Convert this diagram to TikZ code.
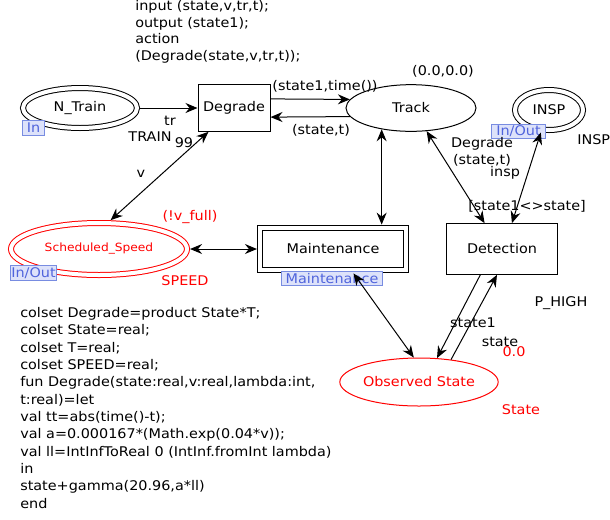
\documentclass[tikz,border=0pt]{standalone}
\usepackage{fontspec}
\setmainfont{DejaVu Sans}[FakeStretch=1.08]
\usetikzlibrary{positioning}
\usetikzlibrary{shapes.geometric}
\usetikzlibrary{arrows.meta}
\definecolor{tagfill}{RGB}{221,226,250}
\definecolor{tagline}{RGB}{120,140,225}
\definecolor{tagtext}{RGB}{80,100,220}

\begin{document}
\begin{tikzpicture}[x=0.75pt, y=-0.75pt,
    every node/.style={font=\fontsize{10}{12.5}\selectfont, inner sep=0pt},
    place/.style={draw, ellipse, line width=0.75pt},
    port/.style={place, double, double distance=3pt, outer sep=2.3pt},
    trans/.style={draw, rectangle, line width=0.75pt},
    tag/.style={draw=tagline, fill=tagfill, text=tagtext, minimum height=11pt, line width=0.6pt},
    arc/.style={line width=0.75pt, -{Stealth[length=9pt,width=7.5pt,inset=3pt]}},
    arcs/.style={line width=0.75pt, {Stealth[length=9pt,width=7.5pt,inset=3pt]}-{Stealth[length=9pt,width=7.5pt,inset=3pt]}}]
    \useasboundingbox (0,0) rectangle (610,519);

    % Lugares
    \node[port, minimum width=85.5pt, minimum height=30pt] (ntrain) at (80,108) {N\_Train};
    \node[place, minimum width=97.5pt, minimum height=35pt] (track) at (411,108) {Track};
    \node[port, minimum width=51pt, minimum height=30pt] (insp) at (549,110) {INSP};
    \node[port, draw=red, text=red, minimum width=132pt, minimum height=39pt, font=\fontsize{8.5}{10}\selectfont] (speed) at (99,249) {Scheduled\_Speed};
    \node[place, draw=red, text=red, minimum width=117pt, minimum height=36pt] (obs) at (419,382) {Observed State};

    % Transiciones
    \node[trans, minimum width=54pt, minimum height=35pt] (deg) at (234,108) {Degrade};
    \node[trans, minimum width=83pt, minimum height=38pt] (det) at (502,249) {Detection};
    \node[trans, double, double distance=3pt, outer sep=2.3pt, minimum width=109.5pt, minimum height=32pt] (maint) at (333,249) {Maintenance};

    % Etiquetas de puerto
    \node[tag, minimum width=17pt] (tin) at (33.5,128) {In};
    \node[tag, minimum width=35pt] (tspeed) at (33.5,273) {In/Out};
    \node[tag, minimum width=41pt] (tinsp) at (518.5,131.5) {In/Out};
    \node[tag, minimum width=76pt] (tmaint) at (332,278.5) {Maintenance};

    % Arcos
    \draw[arc] (ntrain) -- (deg);
    \draw[arc] (deg.14) -- (track.172);
    \draw[arc] (track.188) -- (deg.-14);
    \draw[arcs] (speed.68) -- (deg.223);
    \draw[arcs] (speed.east) -- (maint.west);
    \draw[arcs] (track.216) -- (track.216 |- maint.north);
    \draw[arcs] (maint.310) -- (obs.102);
    \draw[arcs] (track.304) -- (det.124);
    \draw[arcs] (insp.250) -- (det.69);
    \draw[arc] (det.230) -- (obs.53);
    \draw[arc] (obs.35) -- (det.259);

    % Inscripciones
    \node[align=left, anchor=north west] (code) at (135,0) {input (state,v,tr,t);\\output (state1);\\action\\(Degrade(state,v,tr,t));};
    \node (tr) at (170,121) {tr};
    \node (train) at (150,137) {TRAIN};
    \node (n99) at (184,143) {99};
    \node (v) at (141,174) {v};
    \node (st1time) at (325,86) {(state1,time())};
    \node (stt) at (321,130) {(state,t)};
    \node (init) at (443,71) {(0.0,0.0)};
    \node[align=center] (degst) at (482,152) {Degrade\\(state,t)};
    \node (lins) at (505,173) {insp};
    \node[anchor=west] (linsp) at (577,140) {INSP};
    \node (guard) at (527,206) {[state1<>state]};
    \node[text=red] (vfull) at (190,217) {(!v\_full)};
    \node[text=red] (sspeed) at (185,281) {SPEED};
    \node (phigh) at (561,303) {P\_HIGH};
    \node (st1) at (473,323) {state1};
    \node (st) at (500,342) {state};
    \node[text=red] (zero) at (514,352) {0.0};
    \node[text=red] (sstate) at (521,410) {State};
    \node[align=left, anchor=north west, font=\fontsize{10}{13}\selectfont] (decl) at (20,307) {colset Degrade=product State*T;\\colset State=real;\\colset T=real;\\colset SPEED=real;\\fun Degrade(state:real,v:real,lambda:int,\\t:real)=let\\val tt=abs(time()-t);\\val a=0.000167*(Math.exp(0.04*v));\\val ll=IntInfToReal 0 (IntInf.fromInt lambda)\\in\\state+gamma(20.96,a*ll)\\end};
\end{tikzpicture}
\end{document}
